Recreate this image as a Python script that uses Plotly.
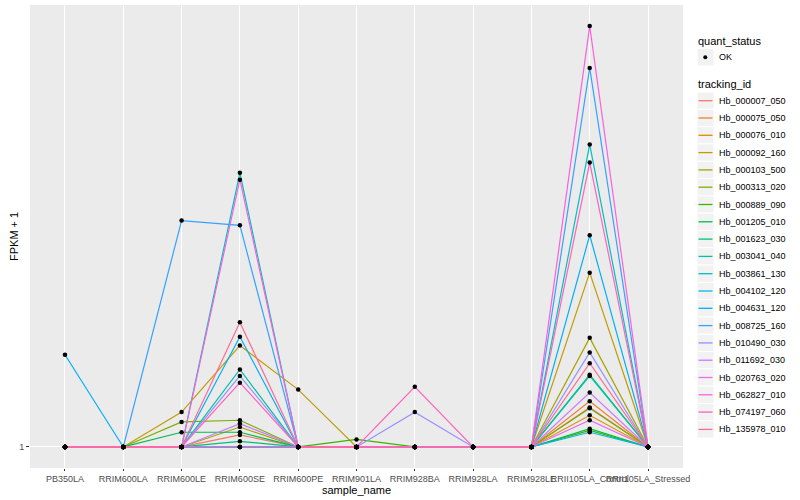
import math
import plotly.graph_objects as go

samples = ["PB350LA", "RRIM600LA", "RRIM600LE", "RRIM600SE", "RRIM600PE", "RRIM901LA",
           "RRIM928BA", "RRIM928LA", "RRIM928LE", "RRII105LA_Control", "RRII105LA_Stressed"]

tracking_ids = ["Hb_000007_050", "Hb_000075_050", "Hb_000076_010", "Hb_000092_160", "Hb_000103_500",
                "Hb_000313_020", "Hb_000889_090", "Hb_001205_010", "Hb_001623_030", "Hb_003041_040",
                "Hb_003861_130", "Hb_004102_120", "Hb_004631_120", "Hb_008725_160", "Hb_010490_030",
                "Hb_011692_030", "Hb_020763_020", "Hb_062827_010", "Hb_074197_060", "Hb_135978_010"]

# FPKM + 1 per sample (order of `samples`)
Hb_000007_050 = [1, 1, 1, 1.065, 1, 1, 1, 1, 1, 1.23, 1]
Hb_000075_050 = [1, 1, 1, 1, 1, 1, 1, 1, 1, 1.27, 1]
Hb_000076_010 = [1, 1, 1, 1, 1, 1, 1, 1, 1, 1.18, 1]
Hb_000092_160 = [1, 1, 1.20, 1.70, 1.35, 1, 1, 1, 1, 2.49, 1]
Hb_000103_500 = [1, 1, 1, 1.11, 1, 1, 1, 1, 1, 1.77, 1]
Hb_000313_020 = [1, 1, 1.14, 1.15, 1, 1, 1, 1, 1, 1.225, 1]
Hb_000889_090 = [1, 1, 1, 1, 1, 1.04, 1, 1, 1, 1.09, 1]
Hb_001205_010 = [1, 1, 1.08, 1.08, 1, 1, 1, 1, 1, 1.10, 1]
Hb_001623_030 = [1, 1, 1, 1.03, 1, 1, 1, 1, 1, 1.46, 1]
Hb_003041_040 = [1, 1, 1, 1.50, 1, 1, 1, 1, 1, 1.45, 1]
Hb_003861_130 = [1, 1, 1, 4.20, 1, 1, 1, 1, 1, 4.87, 1]
Hb_004102_120 = [1, 1, 1, 1, 1, 1, 1, 1, 1, 1.08, 1]
Hb_004631_120 = [1.62, 1, 1, 1.78, 1, 1, 1, 1, 1, 3.03, 1]
Hb_008725_160 = [1, 1, 3.27, 3.19, 1, 1, 1, 1, 1, 7.27, 1]
Hb_010490_030 = [1, 1, 1, 1.45, 1, 1, 1.20, 1, 1, 1.64, 1]
Hb_011692_030 = [1, 1, 1, 1.13, 1, 1, 1, 1, 1, 1.33, 1]
Hb_020763_020 = [1, 1, 1, 1, 1, 1, 1, 1, 1, 1.15, 1]
Hb_062827_010 = [1, 1, 1, 4.05, 1, 1, 1, 1, 1, 9.05, 1]
Hb_074197_060 = [1, 1, 1, 1.40, 1, 1, 1.37, 1, 1, 4.43, 1]
Hb_135978_010 = [1, 1, 1, 1.92, 1, 1, 1, 1, 1, 1.55, 1]

series = [Hb_000007_050, Hb_000075_050, Hb_000076_010, Hb_000092_160, Hb_000103_500,
          Hb_000313_020, Hb_000889_090, Hb_001205_010, Hb_001623_030, Hb_003041_040,
          Hb_003861_130, Hb_004102_120, Hb_004631_120, Hb_008725_160, Hb_010490_030,
          Hb_011692_030, Hb_020763_020, Hb_062827_010, Hb_074197_060, Hb_135978_010]

colors = ["#F8766D", "#EA8331", "#D89000", "#C09B00", "#A3A500", "#7CAE00", "#39B600", "#00BB4E",
          "#00BF7D", "#00C1A3", "#00BFC4", "#00BAE0", "#00B0F6", "#35A2FF", "#9590FF", "#C77CFF",
          "#E76BF3", "#FA62DB", "#FF62BC", "#FF6C91"]

FONT = "Liberation Sans, Arial, sans-serif"
W, H = 800, 500
L, R, T, B = 30, 117, 5, 32
PW, PH = W - L - R, H - T - B

fig = go.Figure()
for name, vals, col in zip(tracking_ids, series, colors):
    fig.add_trace(go.Scatter(x=samples, y=vals, mode="lines", name=name,
                             line=dict(color=col, width=1.2), showlegend=False,
                             hoverinfo="skip"))
for name, vals in zip(tracking_ids, series):
    fig.add_trace(go.Scatter(x=samples, y=vals, mode="markers", name=name,
                             marker=dict(color="black", size=4.5), showlegend=False))

ymax = max(max(s) for s in series)
lo, hi = 0.0, math.log10(ymax)
pad = 0.05 * (hi - lo)

fig.update_layout(
    width=W, height=H,
    margin=dict(l=L, r=R, t=T, b=B, autoexpand=False),
    paper_bgcolor="white", plot_bgcolor="#EBEBEB",
    font=dict(family=FONT, size=9, color="#4D4D4D"),
    showlegend=False,
    xaxis=dict(type="category", categoryorder="array", categoryarray=samples,
               range=[-0.6, len(samples) - 0.4], showgrid=True, gridcolor="white", gridwidth=1.1,
               zeroline=False, ticks="outside", ticklen=2, tickcolor="#333333", tickwidth=1,
               tickangle=0, tickfont=dict(size=9, color="#4D4D4D", family=FONT), automargin=False),
    yaxis=dict(type="log", range=[lo - pad, hi + pad], tickvals=[1], ticktext=["1"],
               showgrid=True, gridcolor="white", gridwidth=1.1, zeroline=False,
               ticks="outside", ticklen=3, tickcolor="#333333", tickwidth=1,
               tickfont=dict(size=9, color="#4D4D4D", family=FONT), automargin=False),
)

def px2x(px):
    return (px - L) / PW

def py2y(py):
    return (H - B - py) / PH

ann = []
shapes = []
ann.append(dict(text="sample_name", x=px2x(356), y=py2y(490), xref="paper", yref="paper",
                showarrow=False, xanchor="center", yanchor="middle",
                font=dict(size=11, color="black", family=FONT)))
ann.append(dict(text="FPKM + 1", x=px2x(14), y=py2y(237), xref="paper", yref="paper",
                showarrow=False, xanchor="center", yanchor="middle", textangle=-90,
                font=dict(size=11, color="black", family=FONT)))

# legend: quant_status
kx0, kx1 = 697, 714
ann.append(dict(text="quant_status", x=px2x(696), y=py2y(41), xref="paper", yref="paper",
                showarrow=False, xanchor="left", yanchor="middle",
                font=dict(size=11, color="black", family=FONT)))
shapes.append(dict(type="rect", xref="paper", yref="paper", x0=px2x(kx0), x1=px2x(kx1),
                   y0=py2y(48.6), y1=py2y(65.9), fillcolor="#F2F2F2", line=dict(color="white", width=1)))
shapes.append(dict(type="circle", xref="paper", yref="paper", x0=px2x(703.3), x1=px2x(707.3),
                   y0=py2y(55.3), y1=py2y(59.3), fillcolor="black", line=dict(color="black", width=0)))
ann.append(dict(text="OK", x=px2x(717), y=py2y(57.3), xref="paper", yref="paper",
                showarrow=False, xanchor="left", yanchor="middle",
                font=dict(size=9, color="black", family=FONT)))

# legend: tracking_id
ann.append(dict(text="tracking_id", x=px2x(696), y=py2y(84), xref="paper", yref="paper",
                showarrow=False, xanchor="left", yanchor="middle",
                font=dict(size=11, color="black", family=FONT)))
step = 17.3
for i, (name, col) in enumerate(zip(tracking_ids, colors)):
    cy = 100.7 + step * i
    shapes.append(dict(type="rect", xref="paper", yref="paper", x0=px2x(kx0), x1=px2x(kx1),
                       y0=py2y(cy - step / 2), y1=py2y(cy + step / 2), fillcolor="#F2F2F2",
                       line=dict(color="white", width=1)))
    shapes.append(dict(type="line", xref="paper", yref="paper", x0=px2x(kx0 + 1.5), x1=px2x(kx1 - 1.5),
                       y0=py2y(cy), y1=py2y(cy), line=dict(color=col, width=1.3)))
    ann.append(dict(text=name, x=px2x(717), y=py2y(cy), xref="paper", yref="paper",
                    showarrow=False, xanchor="left", yanchor="middle",
                    font=dict(size=9, color="black", family=FONT)))

fig.update_layout(annotations=ann, shapes=shapes)
fig.write_html("out.html", config={"displayModeBar": False},
               post_script="document.body.style.margin='0';document.body.style.padding='0';")
